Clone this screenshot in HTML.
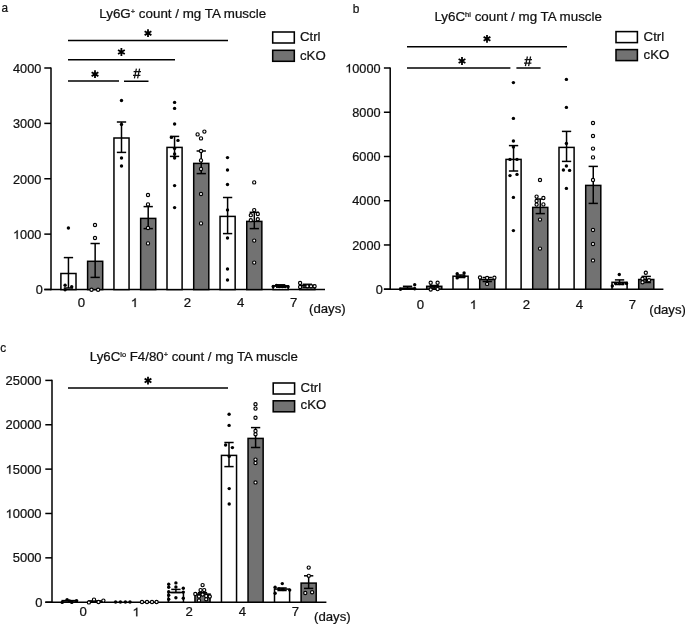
<!DOCTYPE html>
<html><head><meta charset="utf-8"><style>
html,body{margin:0;padding:0;background:#fff;}
body{width:685px;height:625px;overflow:hidden;}
svg{display:block;font-family:"Liberation Sans",sans-serif;fill:#111;}
text{fill:#111;stroke:#111;stroke-width:0.22px;}
</style></head><body>
<svg width="685" height="625" viewBox="0 0 685 625" style="will-change:transform">
<rect width="685" height="625" fill="#fff"/>
<line x1="51.00" y1="67.40" x2="51.00" y2="290.20" stroke="#000" stroke-width="1.5"/>
<line x1="44.30" y1="68.00" x2="51.00" y2="68.00" stroke="#000" stroke-width="1.5"/>
<text transform="translate(13.00,72.80) scale(1.06,1)" text-anchor="start" font-size="12" >4000</text>
<line x1="44.30" y1="123.38" x2="51.00" y2="123.38" stroke="#000" stroke-width="1.5"/>
<text transform="translate(13.00,128.18) scale(1.06,1)" text-anchor="start" font-size="12" >3000</text>
<line x1="44.30" y1="178.75" x2="51.00" y2="178.75" stroke="#000" stroke-width="1.5"/>
<text transform="translate(13.00,183.55) scale(1.06,1)" text-anchor="start" font-size="12" >2000</text>
<line x1="44.30" y1="234.12" x2="51.00" y2="234.12" stroke="#000" stroke-width="1.5"/>
<path transform="translate(13.00,238.93) scale(0.00621,-0.00586)" d="M763,0L583,0L583,1147Q518,1085 412,1023Q306,961 222,930L222,1104Q373,1175 486,1276Q599,1377 646,1472L763,1472Z" fill="#111" stroke="#111" stroke-width="37.5"/>
<text transform="translate(20.08,238.93) scale(1.06,1)" text-anchor="start" font-size="12" >000</text>
<line x1="44.30" y1="289.50" x2="51.00" y2="289.50" stroke="#000" stroke-width="1.5"/>
<text transform="translate(35.83,294.30) scale(1.06,1)" text-anchor="start" font-size="12" >0</text>
<line x1="44.30" y1="289.60" x2="325.00" y2="289.60" stroke="#000" stroke-width="1.5"/>
<rect x="60.90" y="273.50" width="15.10" height="16.10" fill="#fff" stroke="#000" stroke-width="1.5"/>
<rect x="87.60" y="261.30" width="15.10" height="28.30" fill="#727272" stroke="#000" stroke-width="1.5"/>
<rect x="113.95" y="138.00" width="15.10" height="151.60" fill="#fff" stroke="#000" stroke-width="1.5"/>
<rect x="140.65" y="218.40" width="15.10" height="71.20" fill="#727272" stroke="#000" stroke-width="1.5"/>
<rect x="167.00" y="147.40" width="15.10" height="142.20" fill="#fff" stroke="#000" stroke-width="1.5"/>
<rect x="193.70" y="163.40" width="15.10" height="126.20" fill="#727272" stroke="#000" stroke-width="1.5"/>
<rect x="220.05" y="216.40" width="15.10" height="73.20" fill="#fff" stroke="#000" stroke-width="1.5"/>
<rect x="246.75" y="221.40" width="15.10" height="68.20" fill="#727272" stroke="#000" stroke-width="1.5"/>
<rect x="273.10" y="285.80" width="15.10" height="3.80" fill="#fff" stroke="#000" stroke-width="1.5"/>
<rect x="299.80" y="285.40" width="15.10" height="4.20" fill="#727272" stroke="#000" stroke-width="1.5"/>
<line x1="68.45" y1="257.60" x2="68.45" y2="288.00" stroke="#000" stroke-width="1.5"/>
<line x1="63.80" y1="257.60" x2="73.10" y2="257.60" stroke="#000" stroke-width="1.5"/>
<line x1="63.80" y1="288.00" x2="73.10" y2="288.00" stroke="#000" stroke-width="1.5"/>
<circle cx="68.40" cy="228.00" r="1.7" fill="#000"/>
<circle cx="65.10" cy="285.30" r="1.7" fill="#000"/>
<circle cx="65.10" cy="289.70" r="1.7" fill="#000"/>
<circle cx="71.70" cy="286.80" r="1.7" fill="#000"/>
<line x1="95.15" y1="243.50" x2="95.15" y2="277.40" stroke="#000" stroke-width="1.5"/>
<line x1="90.50" y1="243.50" x2="99.80" y2="243.50" stroke="#000" stroke-width="1.5"/>
<line x1="90.50" y1="277.40" x2="99.80" y2="277.40" stroke="#000" stroke-width="1.5"/>
<circle cx="95.00" cy="225.00" r="1.6" fill="#fff" stroke="#000" stroke-width="1.15"/>
<circle cx="95.00" cy="238.00" r="1.6" fill="#fff" stroke="#000" stroke-width="1.15"/>
<circle cx="91.50" cy="289.70" r="1.6" fill="#fff" stroke="#000" stroke-width="1.15"/>
<circle cx="98.10" cy="289.70" r="1.6" fill="#fff" stroke="#000" stroke-width="1.15"/>
<line x1="121.50" y1="122.00" x2="121.50" y2="152.40" stroke="#000" stroke-width="1.5"/>
<line x1="116.85" y1="122.00" x2="126.15" y2="122.00" stroke="#000" stroke-width="1.5"/>
<line x1="116.85" y1="152.40" x2="126.15" y2="152.40" stroke="#000" stroke-width="1.5"/>
<circle cx="121.50" cy="100.50" r="1.7" fill="#000"/>
<circle cx="121.50" cy="124.40" r="1.7" fill="#000"/>
<circle cx="121.50" cy="158.00" r="1.7" fill="#000"/>
<circle cx="121.50" cy="166.00" r="1.7" fill="#000"/>
<line x1="148.20" y1="206.60" x2="148.20" y2="228.60" stroke="#000" stroke-width="1.5"/>
<line x1="143.55" y1="206.60" x2="152.85" y2="206.60" stroke="#000" stroke-width="1.5"/>
<line x1="143.55" y1="228.60" x2="152.85" y2="228.60" stroke="#000" stroke-width="1.5"/>
<circle cx="148.00" cy="195.00" r="1.6" fill="#fff" stroke="#000" stroke-width="1.15"/>
<circle cx="148.00" cy="204.40" r="1.6" fill="#fff" stroke="#000" stroke-width="1.15"/>
<circle cx="148.00" cy="228.00" r="1.6" fill="#fff" stroke="#000" stroke-width="1.15"/>
<circle cx="148.00" cy="243.40" r="1.6" fill="#fff" stroke="#000" stroke-width="1.15"/>
<line x1="174.55" y1="136.40" x2="174.55" y2="156.40" stroke="#000" stroke-width="1.5"/>
<line x1="169.90" y1="136.40" x2="179.20" y2="136.40" stroke="#000" stroke-width="1.5"/>
<line x1="169.90" y1="156.40" x2="179.20" y2="156.40" stroke="#000" stroke-width="1.5"/>
<circle cx="174.60" cy="102.40" r="1.7" fill="#000"/>
<circle cx="174.60" cy="108.40" r="1.7" fill="#000"/>
<circle cx="174.60" cy="124.00" r="1.7" fill="#000"/>
<circle cx="171.40" cy="137.40" r="1.7" fill="#000"/>
<circle cx="178.00" cy="140.40" r="1.7" fill="#000"/>
<circle cx="174.60" cy="148.40" r="1.7" fill="#000"/>
<circle cx="174.60" cy="154.00" r="1.7" fill="#000"/>
<circle cx="174.60" cy="158.00" r="1.7" fill="#000"/>
<circle cx="174.60" cy="185.60" r="1.7" fill="#000"/>
<circle cx="174.60" cy="207.60" r="1.7" fill="#000"/>
<line x1="201.25" y1="151.00" x2="201.25" y2="173.60" stroke="#000" stroke-width="1.5"/>
<line x1="196.60" y1="151.00" x2="205.90" y2="151.00" stroke="#000" stroke-width="1.5"/>
<line x1="196.60" y1="173.60" x2="205.90" y2="173.60" stroke="#000" stroke-width="1.5"/>
<circle cx="197.60" cy="134.40" r="1.6" fill="#fff" stroke="#000" stroke-width="1.15"/>
<circle cx="204.40" cy="131.60" r="1.6" fill="#fff" stroke="#000" stroke-width="1.15"/>
<circle cx="201.00" cy="138.40" r="1.6" fill="#fff" stroke="#000" stroke-width="1.15"/>
<circle cx="201.00" cy="151.00" r="1.6" fill="#fff" stroke="#000" stroke-width="1.15"/>
<circle cx="201.00" cy="160.40" r="1.6" fill="#fff" stroke="#000" stroke-width="1.15"/>
<circle cx="201.00" cy="169.00" r="1.6" fill="#fff" stroke="#000" stroke-width="1.15"/>
<circle cx="201.00" cy="194.00" r="1.6" fill="#fff" stroke="#000" stroke-width="1.15"/>
<circle cx="201.00" cy="223.40" r="1.6" fill="#fff" stroke="#000" stroke-width="1.15"/>
<line x1="227.60" y1="197.50" x2="227.60" y2="233.60" stroke="#000" stroke-width="1.5"/>
<line x1="222.95" y1="197.50" x2="232.25" y2="197.50" stroke="#000" stroke-width="1.5"/>
<line x1="222.95" y1="233.60" x2="232.25" y2="233.60" stroke="#000" stroke-width="1.5"/>
<circle cx="227.50" cy="157.60" r="1.7" fill="#000"/>
<circle cx="227.50" cy="170.00" r="1.7" fill="#000"/>
<circle cx="227.50" cy="184.50" r="1.7" fill="#000"/>
<circle cx="227.50" cy="209.90" r="1.7" fill="#000"/>
<circle cx="227.50" cy="238.00" r="1.7" fill="#000"/>
<circle cx="227.50" cy="269.00" r="1.7" fill="#000"/>
<circle cx="227.50" cy="280.00" r="1.7" fill="#000"/>
<line x1="254.30" y1="212.30" x2="254.30" y2="228.60" stroke="#000" stroke-width="1.5"/>
<line x1="249.65" y1="212.30" x2="258.95" y2="212.30" stroke="#000" stroke-width="1.5"/>
<line x1="249.65" y1="228.60" x2="258.95" y2="228.60" stroke="#000" stroke-width="1.5"/>
<circle cx="254.20" cy="182.40" r="1.6" fill="#fff" stroke="#000" stroke-width="1.15"/>
<circle cx="254.20" cy="210.10" r="1.6" fill="#fff" stroke="#000" stroke-width="1.15"/>
<circle cx="250.80" cy="215.20" r="1.6" fill="#fff" stroke="#000" stroke-width="1.15"/>
<circle cx="257.80" cy="214.00" r="1.6" fill="#fff" stroke="#000" stroke-width="1.15"/>
<circle cx="250.80" cy="220.20" r="1.6" fill="#fff" stroke="#000" stroke-width="1.15"/>
<circle cx="257.80" cy="219.20" r="1.6" fill="#fff" stroke="#000" stroke-width="1.15"/>
<circle cx="254.20" cy="240.60" r="1.6" fill="#fff" stroke="#000" stroke-width="1.15"/>
<circle cx="254.20" cy="262.60" r="1.6" fill="#fff" stroke="#000" stroke-width="1.15"/>
<line x1="280.65" y1="284.80" x2="280.65" y2="287.20" stroke="#000" stroke-width="1.5"/>
<line x1="276.00" y1="284.80" x2="285.30" y2="284.80" stroke="#000" stroke-width="1.5"/>
<line x1="276.00" y1="287.20" x2="285.30" y2="287.20" stroke="#000" stroke-width="1.5"/>
<circle cx="273.20" cy="286.50" r="1.7" fill="#000"/>
<circle cx="276.40" cy="285.40" r="1.7" fill="#000"/>
<circle cx="279.20" cy="286.60" r="1.7" fill="#000"/>
<circle cx="282.40" cy="286.60" r="1.7" fill="#000"/>
<circle cx="285.30" cy="286.60" r="1.7" fill="#000"/>
<circle cx="288.10" cy="286.80" r="1.7" fill="#000"/>
<line x1="307.35" y1="284.30" x2="307.35" y2="287.20" stroke="#000" stroke-width="1.5"/>
<line x1="302.70" y1="284.30" x2="312.00" y2="284.30" stroke="#000" stroke-width="1.5"/>
<line x1="302.70" y1="287.20" x2="312.00" y2="287.20" stroke="#000" stroke-width="1.5"/>
<circle cx="300.10" cy="283.00" r="1.6" fill="#fff" stroke="#000" stroke-width="1.15"/>
<circle cx="300.10" cy="287.00" r="1.6" fill="#fff" stroke="#000" stroke-width="1.15"/>
<circle cx="307.40" cy="286.20" r="1.6" fill="#fff" stroke="#000" stroke-width="1.15"/>
<circle cx="311.00" cy="286.20" r="1.6" fill="#fff" stroke="#000" stroke-width="1.15"/>
<circle cx="314.60" cy="286.20" r="1.6" fill="#fff" stroke="#000" stroke-width="1.15"/>
<text transform="translate(77.73,307.00) scale(1.1,1)" text-anchor="start" font-size="12" >0</text>
<path transform="translate(130.78,307.00) scale(0.00645,-0.00586)" d="M763,0L583,0L583,1147Q518,1085 412,1023Q306,961 222,930L222,1104Q373,1175 486,1276Q599,1377 646,1472L763,1472Z" fill="#111" stroke="#111" stroke-width="37.5"/>
<text transform="translate(183.83,307.00) scale(1.1,1)" text-anchor="start" font-size="12" >2</text>
<text transform="translate(236.88,307.00) scale(1.1,1)" text-anchor="start" font-size="12" >4</text>
<text transform="translate(289.93,307.00) scale(1.1,1)" text-anchor="start" font-size="12" >7</text>
<text transform="translate(309.00,313.10) scale(1.1,1)" text-anchor="start" font-size="12" >(days)</text>
<line x1="68.00" y1="40.60" x2="228.00" y2="40.60" stroke="#000" stroke-width="1.5"/>
<path d="M148.00,37.10L148.00,29.30M144.62,35.15L151.38,31.25M151.38,35.15L144.62,31.25" stroke="#000" stroke-width="1.8" fill="none"/>
<line x1="68.00" y1="59.65" x2="175.00" y2="59.65" stroke="#000" stroke-width="1.5"/>
<path d="M121.40,55.90L121.40,48.10M118.02,53.95L124.78,50.05M124.78,53.95L118.02,50.05" stroke="#000" stroke-width="1.8" fill="none"/>
<line x1="68.00" y1="81.00" x2="119.00" y2="81.00" stroke="#000" stroke-width="1.5"/>
<path d="M95.00,78.10L95.00,70.30M91.62,76.15L98.38,72.25M98.38,76.15L91.62,72.25" stroke="#000" stroke-width="1.8" fill="none"/>
<line x1="124.00" y1="81.25" x2="148.50" y2="81.25" stroke="#000" stroke-width="1.5"/>
<path d="M136.40,68.60L134.40,78.30M139.60,68.60L137.60,78.30M133.60,71.60L141.00,71.60M133.00,75.30L140.40,75.30" stroke="#111" stroke-width="1.25" fill="none"/>
<rect x="272.70" y="32.00" width="21.60" height="11.00" fill="#fff" stroke="#000" stroke-width="1.55"/>
<rect x="272.70" y="50.30" width="21.60" height="11.00" fill="#727272" stroke="#000" stroke-width="1.55"/>
<text transform="translate(300.00,41.20) scale(1.1,1)" text-anchor="start" font-size="12" >Ctrl</text>
<text transform="translate(300.00,59.50) scale(1.1,1)" text-anchor="start" font-size="12" >cKO</text>
<text transform="translate(99.30,18.20) scale(1.07,1)" font-size="12.5"><tspan>Ly6G</tspan><tspan font-size="7" dy="-4.4">+</tspan><tspan dy="4.4"> count / mg TA muscle</tspan></text>
<text transform="translate(1.50,12.20) scale(0.98,1)" text-anchor="start" font-size="12" >a</text>
<line x1="390.20" y1="67.40" x2="390.20" y2="289.80" stroke="#000" stroke-width="1.5"/>
<line x1="383.90" y1="68.00" x2="390.20" y2="68.00" stroke="#000" stroke-width="1.5"/>
<path transform="translate(345.23,72.60) scale(0.00621,-0.00586)" d="M763,0L583,0L583,1147Q518,1085 412,1023Q306,961 222,930L222,1104Q373,1175 486,1276Q599,1377 646,1472L763,1472Z" fill="#111" stroke="#111" stroke-width="37.5"/>
<text transform="translate(352.30,72.60) scale(1.06,1)" text-anchor="start" font-size="12" >0000</text>
<line x1="383.90" y1="112.24" x2="390.20" y2="112.24" stroke="#000" stroke-width="1.5"/>
<text transform="translate(352.30,116.84) scale(1.06,1)" text-anchor="start" font-size="12" >8000</text>
<line x1="383.90" y1="156.48" x2="390.20" y2="156.48" stroke="#000" stroke-width="1.5"/>
<text transform="translate(352.30,161.08) scale(1.06,1)" text-anchor="start" font-size="12" >6000</text>
<line x1="383.90" y1="200.72" x2="390.20" y2="200.72" stroke="#000" stroke-width="1.5"/>
<text transform="translate(352.30,205.32) scale(1.06,1)" text-anchor="start" font-size="12" >4000</text>
<line x1="383.90" y1="244.96" x2="390.20" y2="244.96" stroke="#000" stroke-width="1.5"/>
<text transform="translate(352.30,249.56) scale(1.06,1)" text-anchor="start" font-size="12" >2000</text>
<line x1="383.90" y1="289.20" x2="390.20" y2="289.20" stroke="#000" stroke-width="1.5"/>
<text transform="translate(375.73,293.80) scale(1.06,1)" text-anchor="start" font-size="12" >0</text>
<line x1="383.90" y1="289.20" x2="663.40" y2="289.20" stroke="#000" stroke-width="1.5"/>
<rect x="400.00" y="288.20" width="15.10" height="1.00" fill="#fff" stroke="#000" stroke-width="1.5"/>
<rect x="426.70" y="286.30" width="15.10" height="2.90" fill="#727272" stroke="#000" stroke-width="1.5"/>
<rect x="453.00" y="276.20" width="15.10" height="13.00" fill="#fff" stroke="#000" stroke-width="1.5"/>
<rect x="479.70" y="279.50" width="15.10" height="9.70" fill="#727272" stroke="#000" stroke-width="1.5"/>
<rect x="506.00" y="159.40" width="15.10" height="129.80" fill="#fff" stroke="#000" stroke-width="1.5"/>
<rect x="532.70" y="207.40" width="15.10" height="81.80" fill="#727272" stroke="#000" stroke-width="1.5"/>
<rect x="559.00" y="147.40" width="15.10" height="141.80" fill="#fff" stroke="#000" stroke-width="1.5"/>
<rect x="585.70" y="185.40" width="15.10" height="103.80" fill="#727272" stroke="#000" stroke-width="1.5"/>
<rect x="612.00" y="282.30" width="15.10" height="6.90" fill="#fff" stroke="#000" stroke-width="1.5"/>
<rect x="638.70" y="279.50" width="15.10" height="9.70" fill="#727272" stroke="#000" stroke-width="1.5"/>
<line x1="407.55" y1="286.30" x2="407.55" y2="288.30" stroke="#000" stroke-width="1.5"/>
<line x1="402.90" y1="286.30" x2="412.20" y2="286.30" stroke="#000" stroke-width="1.5"/>
<line x1="402.90" y1="288.30" x2="412.20" y2="288.30" stroke="#000" stroke-width="1.5"/>
<circle cx="400.50" cy="289.30" r="1.7" fill="#000"/>
<circle cx="414.70" cy="284.70" r="1.7" fill="#000"/>
<circle cx="414.70" cy="288.70" r="1.7" fill="#000"/>
<line x1="434.25" y1="285.50" x2="434.25" y2="288.00" stroke="#000" stroke-width="1.5"/>
<line x1="429.60" y1="285.50" x2="438.90" y2="285.50" stroke="#000" stroke-width="1.5"/>
<line x1="429.60" y1="288.00" x2="438.90" y2="288.00" stroke="#000" stroke-width="1.5"/>
<circle cx="430.70" cy="282.70" r="1.6" fill="#fff" stroke="#000" stroke-width="1.15"/>
<circle cx="437.60" cy="282.70" r="1.6" fill="#fff" stroke="#000" stroke-width="1.15"/>
<circle cx="430.70" cy="289.50" r="1.6" fill="#fff" stroke="#000" stroke-width="1.15"/>
<circle cx="437.60" cy="289.10" r="1.6" fill="#fff" stroke="#000" stroke-width="1.15"/>
<line x1="460.55" y1="275.00" x2="460.55" y2="277.50" stroke="#000" stroke-width="1.5"/>
<line x1="455.90" y1="275.00" x2="465.20" y2="275.00" stroke="#000" stroke-width="1.5"/>
<line x1="455.90" y1="277.50" x2="465.20" y2="277.50" stroke="#000" stroke-width="1.5"/>
<circle cx="457.20" cy="273.80" r="1.7" fill="#000"/>
<circle cx="457.20" cy="277.90" r="1.7" fill="#000"/>
<circle cx="464.10" cy="273.00" r="1.7" fill="#000"/>
<circle cx="464.10" cy="276.60" r="1.7" fill="#000"/>
<line x1="487.25" y1="277.50" x2="487.25" y2="281.50" stroke="#000" stroke-width="1.5"/>
<line x1="482.60" y1="277.50" x2="491.90" y2="277.50" stroke="#000" stroke-width="1.5"/>
<line x1="482.60" y1="281.50" x2="491.90" y2="281.50" stroke="#000" stroke-width="1.5"/>
<circle cx="480.00" cy="277.40" r="1.6" fill="#fff" stroke="#000" stroke-width="1.15"/>
<circle cx="487.10" cy="277.90" r="1.6" fill="#fff" stroke="#000" stroke-width="1.15"/>
<circle cx="494.40" cy="277.70" r="1.6" fill="#fff" stroke="#000" stroke-width="1.15"/>
<circle cx="487.10" cy="283.90" r="1.6" fill="#fff" stroke="#000" stroke-width="1.15"/>
<line x1="513.55" y1="145.60" x2="513.55" y2="171.00" stroke="#000" stroke-width="1.5"/>
<line x1="508.90" y1="145.60" x2="518.20" y2="145.60" stroke="#000" stroke-width="1.5"/>
<line x1="508.90" y1="171.00" x2="518.20" y2="171.00" stroke="#000" stroke-width="1.5"/>
<circle cx="513.40" cy="82.60" r="1.7" fill="#000"/>
<circle cx="513.40" cy="118.40" r="1.7" fill="#000"/>
<circle cx="513.40" cy="141.00" r="1.7" fill="#000"/>
<circle cx="513.40" cy="147.00" r="1.7" fill="#000"/>
<circle cx="510.00" cy="159.40" r="1.7" fill="#000"/>
<circle cx="517.00" cy="159.40" r="1.7" fill="#000"/>
<circle cx="510.00" cy="175.60" r="1.7" fill="#000"/>
<circle cx="517.00" cy="174.40" r="1.7" fill="#000"/>
<circle cx="513.40" cy="197.40" r="1.7" fill="#000"/>
<circle cx="513.40" cy="230.60" r="1.7" fill="#000"/>
<line x1="540.25" y1="199.00" x2="540.25" y2="213.60" stroke="#000" stroke-width="1.5"/>
<line x1="535.60" y1="199.00" x2="544.90" y2="199.00" stroke="#000" stroke-width="1.5"/>
<line x1="535.60" y1="213.60" x2="544.90" y2="213.60" stroke="#000" stroke-width="1.5"/>
<circle cx="540.00" cy="180.00" r="1.6" fill="#fff" stroke="#000" stroke-width="1.15"/>
<circle cx="536.60" cy="196.60" r="1.6" fill="#fff" stroke="#000" stroke-width="1.15"/>
<circle cx="543.40" cy="198.00" r="1.6" fill="#fff" stroke="#000" stroke-width="1.15"/>
<circle cx="536.60" cy="201.00" r="1.6" fill="#fff" stroke="#000" stroke-width="1.15"/>
<circle cx="536.60" cy="204.60" r="1.6" fill="#fff" stroke="#000" stroke-width="1.15"/>
<circle cx="543.40" cy="204.40" r="1.6" fill="#fff" stroke="#000" stroke-width="1.15"/>
<circle cx="540.00" cy="219.60" r="1.6" fill="#fff" stroke="#000" stroke-width="1.15"/>
<circle cx="540.00" cy="248.60" r="1.6" fill="#fff" stroke="#000" stroke-width="1.15"/>
<line x1="566.55" y1="131.40" x2="566.55" y2="161.40" stroke="#000" stroke-width="1.5"/>
<line x1="561.90" y1="131.40" x2="571.20" y2="131.40" stroke="#000" stroke-width="1.5"/>
<line x1="561.90" y1="161.40" x2="571.20" y2="161.40" stroke="#000" stroke-width="1.5"/>
<circle cx="566.40" cy="79.40" r="1.7" fill="#000"/>
<circle cx="566.40" cy="107.40" r="1.7" fill="#000"/>
<circle cx="566.40" cy="143.40" r="1.7" fill="#000"/>
<circle cx="566.40" cy="166.00" r="1.7" fill="#000"/>
<circle cx="563.40" cy="170.00" r="1.7" fill="#000"/>
<circle cx="569.60" cy="170.40" r="1.7" fill="#000"/>
<circle cx="566.40" cy="188.40" r="1.7" fill="#000"/>
<line x1="593.25" y1="166.40" x2="593.25" y2="203.40" stroke="#000" stroke-width="1.5"/>
<line x1="588.60" y1="166.40" x2="597.90" y2="166.40" stroke="#000" stroke-width="1.5"/>
<line x1="588.60" y1="203.40" x2="597.90" y2="203.40" stroke="#000" stroke-width="1.5"/>
<circle cx="593.00" cy="123.00" r="1.6" fill="#fff" stroke="#000" stroke-width="1.15"/>
<circle cx="593.00" cy="136.00" r="1.6" fill="#fff" stroke="#000" stroke-width="1.15"/>
<circle cx="593.00" cy="148.60" r="1.6" fill="#fff" stroke="#000" stroke-width="1.15"/>
<circle cx="593.00" cy="157.40" r="1.6" fill="#fff" stroke="#000" stroke-width="1.15"/>
<circle cx="593.00" cy="180.00" r="1.6" fill="#fff" stroke="#000" stroke-width="1.15"/>
<circle cx="593.00" cy="230.00" r="1.6" fill="#fff" stroke="#000" stroke-width="1.15"/>
<circle cx="593.00" cy="244.00" r="1.6" fill="#fff" stroke="#000" stroke-width="1.15"/>
<circle cx="593.00" cy="260.40" r="1.6" fill="#fff" stroke="#000" stroke-width="1.15"/>
<line x1="619.55" y1="279.90" x2="619.55" y2="284.50" stroke="#000" stroke-width="1.5"/>
<line x1="614.90" y1="279.90" x2="624.20" y2="279.90" stroke="#000" stroke-width="1.5"/>
<line x1="614.90" y1="284.50" x2="624.20" y2="284.50" stroke="#000" stroke-width="1.5"/>
<circle cx="619.30" cy="274.50" r="1.7" fill="#000"/>
<circle cx="615.60" cy="283.50" r="1.7" fill="#000"/>
<circle cx="619.30" cy="283.50" r="1.7" fill="#000"/>
<circle cx="622.90" cy="283.50" r="1.7" fill="#000"/>
<circle cx="626.50" cy="283.50" r="1.7" fill="#000"/>
<circle cx="612.30" cy="286.00" r="1.7" fill="#000"/>
<line x1="646.25" y1="276.40" x2="646.25" y2="282.50" stroke="#000" stroke-width="1.5"/>
<line x1="641.60" y1="276.40" x2="650.90" y2="276.40" stroke="#000" stroke-width="1.5"/>
<line x1="641.60" y1="282.50" x2="650.90" y2="282.50" stroke="#000" stroke-width="1.5"/>
<circle cx="645.80" cy="272.80" r="1.6" fill="#fff" stroke="#000" stroke-width="1.15"/>
<circle cx="642.50" cy="278.70" r="1.6" fill="#fff" stroke="#000" stroke-width="1.15"/>
<circle cx="649.00" cy="280.30" r="1.6" fill="#fff" stroke="#000" stroke-width="1.15"/>
<circle cx="642.50" cy="282.30" r="1.6" fill="#fff" stroke="#000" stroke-width="1.15"/>
<text transform="translate(416.73,309.00) scale(1.1,1)" text-anchor="start" font-size="12" >0</text>
<path transform="translate(469.73,309.00) scale(0.00645,-0.00586)" d="M763,0L583,0L583,1147Q518,1085 412,1023Q306,961 222,930L222,1104Q373,1175 486,1276Q599,1377 646,1472L763,1472Z" fill="#111" stroke="#111" stroke-width="37.5"/>
<text transform="translate(522.73,309.00) scale(1.1,1)" text-anchor="start" font-size="12" >2</text>
<text transform="translate(575.73,309.00) scale(1.1,1)" text-anchor="start" font-size="12" >4</text>
<text transform="translate(628.73,309.00) scale(1.1,1)" text-anchor="start" font-size="12" >7</text>
<text transform="translate(649.30,314.30) scale(1.1,1)" text-anchor="start" font-size="12" >(days)</text>
<line x1="407.00" y1="46.70" x2="567.00" y2="46.70" stroke="#000" stroke-width="1.5"/>
<path d="M487.00,42.70L487.00,34.90M483.62,40.75L490.38,36.85M490.38,40.75L483.62,36.85" stroke="#000" stroke-width="1.8" fill="none"/>
<line x1="407.00" y1="68.00" x2="510.40" y2="68.00" stroke="#000" stroke-width="1.5"/>
<path d="M462.00,64.90L462.00,57.10M458.62,62.95L465.38,59.05M465.38,62.95L458.62,59.05" stroke="#000" stroke-width="1.8" fill="none"/>
<line x1="516.40" y1="68.00" x2="540.60" y2="68.00" stroke="#000" stroke-width="1.5"/>
<path d="M527.40,56.50L525.40,66.20M530.60,56.50L528.60,66.20M524.60,59.50L532.00,59.50M524.00,63.20L531.40,63.20" stroke="#111" stroke-width="1.25" fill="none"/>
<rect x="616.00" y="31.60" width="21.40" height="11.00" fill="#fff" stroke="#000" stroke-width="1.55"/>
<rect x="616.00" y="49.60" width="21.40" height="11.00" fill="#727272" stroke="#000" stroke-width="1.55"/>
<text transform="translate(643.60,41.00) scale(1.1,1)" text-anchor="start" font-size="12" >Ctrl</text>
<text transform="translate(643.60,59.00) scale(1.1,1)" text-anchor="start" font-size="12" >cKO</text>
<text transform="translate(434.40,20.90) scale(1.07,1)" font-size="12.5"><tspan>Ly6C</tspan><tspan font-size="7" dy="-4.4">hi</tspan><tspan dy="4.4"> count / mg TA muscle</tspan></text>
<text transform="translate(352.70,12.65) scale(0.93,1)" text-anchor="start" font-size="12.8" >b</text>
<line x1="52.00" y1="379.80" x2="52.00" y2="602.80" stroke="#000" stroke-width="1.5"/>
<line x1="45.30" y1="380.40" x2="52.00" y2="380.40" stroke="#000" stroke-width="1.5"/>
<text transform="translate(5.56,385.00) scale(1.08,1)" text-anchor="start" font-size="12" >25000</text>
<line x1="45.30" y1="424.76" x2="52.00" y2="424.76" stroke="#000" stroke-width="1.5"/>
<text transform="translate(5.56,429.36) scale(1.08,1)" text-anchor="start" font-size="12" >20000</text>
<line x1="45.30" y1="469.12" x2="52.00" y2="469.12" stroke="#000" stroke-width="1.5"/>
<path transform="translate(5.56,473.72) scale(0.00633,-0.00586)" d="M763,0L583,0L583,1147Q518,1085 412,1023Q306,961 222,930L222,1104Q373,1175 486,1276Q599,1377 646,1472L763,1472Z" fill="#111" stroke="#111" stroke-width="37.5"/>
<text transform="translate(12.77,473.72) scale(1.08,1)" text-anchor="start" font-size="12" >5000</text>
<line x1="45.30" y1="513.48" x2="52.00" y2="513.48" stroke="#000" stroke-width="1.5"/>
<path transform="translate(5.56,518.08) scale(0.00633,-0.00586)" d="M763,0L583,0L583,1147Q518,1085 412,1023Q306,961 222,930L222,1104Q373,1175 486,1276Q599,1377 646,1472L763,1472Z" fill="#111" stroke="#111" stroke-width="37.5"/>
<text transform="translate(12.77,518.08) scale(1.08,1)" text-anchor="start" font-size="12" >0000</text>
<line x1="45.30" y1="557.84" x2="52.00" y2="557.84" stroke="#000" stroke-width="1.5"/>
<text transform="translate(12.77,562.44) scale(1.08,1)" text-anchor="start" font-size="12" >5000</text>
<line x1="45.30" y1="602.20" x2="52.00" y2="602.20" stroke="#000" stroke-width="1.5"/>
<text transform="translate(35.19,606.80) scale(1.08,1)" text-anchor="start" font-size="12" >0</text>
<line x1="45.30" y1="602.20" x2="326.40" y2="602.20" stroke="#000" stroke-width="1.5"/>
<rect x="62.20" y="600.60" width="15.10" height="1.60" fill="#fff" stroke="#000" stroke-width="1.5"/>
<rect x="88.80" y="600.90" width="15.10" height="1.30" fill="#727272" stroke="#000" stroke-width="1.5"/>
<rect x="168.35" y="592.50" width="15.10" height="9.70" fill="#fff" stroke="#000" stroke-width="1.5"/>
<rect x="194.95" y="594.10" width="15.10" height="8.10" fill="#727272" stroke="#000" stroke-width="1.5"/>
<rect x="221.45" y="455.40" width="15.10" height="146.80" fill="#fff" stroke="#000" stroke-width="1.5"/>
<rect x="248.05" y="438.40" width="15.10" height="163.80" fill="#727272" stroke="#000" stroke-width="1.5"/>
<rect x="274.50" y="589.10" width="15.10" height="13.10" fill="#fff" stroke="#000" stroke-width="1.5"/>
<rect x="301.10" y="583.10" width="15.10" height="19.10" fill="#727272" stroke="#000" stroke-width="1.5"/>
<circle cx="62.20" cy="602.40" r="1.7" fill="#000"/>
<circle cx="67.10" cy="599.60" r="1.7" fill="#000"/>
<circle cx="69.50" cy="601.00" r="1.7" fill="#000"/>
<circle cx="71.80" cy="602.40" r="1.7" fill="#000"/>
<circle cx="76.50" cy="600.60" r="1.7" fill="#000"/>
<circle cx="88.90" cy="602.40" r="1.6" fill="#fff" stroke="#000" stroke-width="1.15"/>
<circle cx="94.00" cy="599.60" r="1.6" fill="#fff" stroke="#000" stroke-width="1.15"/>
<circle cx="98.50" cy="602.00" r="1.6" fill="#fff" stroke="#000" stroke-width="1.15"/>
<circle cx="103.40" cy="600.60" r="1.6" fill="#fff" stroke="#000" stroke-width="1.15"/>
<circle cx="115.60" cy="602.00" r="1.7" fill="#000"/>
<circle cx="120.40" cy="602.00" r="1.7" fill="#000"/>
<circle cx="125.40" cy="602.00" r="1.7" fill="#000"/>
<circle cx="130.00" cy="602.00" r="1.7" fill="#000"/>
<circle cx="142.00" cy="602.00" r="1.6" fill="#fff" stroke="#000" stroke-width="1.15"/>
<circle cx="147.00" cy="602.00" r="1.6" fill="#fff" stroke="#000" stroke-width="1.15"/>
<circle cx="152.00" cy="602.00" r="1.6" fill="#fff" stroke="#000" stroke-width="1.15"/>
<circle cx="156.60" cy="602.00" r="1.6" fill="#fff" stroke="#000" stroke-width="1.15"/>
<line x1="175.90" y1="589.40" x2="175.90" y2="592.50" stroke="#000" stroke-width="1.5"/>
<line x1="171.25" y1="589.40" x2="180.55" y2="589.40" stroke="#000" stroke-width="1.5"/>
<line x1="171.25" y1="592.50" x2="180.55" y2="592.50" stroke="#000" stroke-width="1.5"/>
<circle cx="168.70" cy="584.30" r="1.7" fill="#000"/>
<circle cx="168.70" cy="587.30" r="1.7" fill="#000"/>
<circle cx="168.70" cy="591.70" r="1.7" fill="#000"/>
<circle cx="168.70" cy="595.30" r="1.7" fill="#000"/>
<circle cx="168.70" cy="599.30" r="1.7" fill="#000"/>
<circle cx="175.90" cy="582.90" r="1.7" fill="#000"/>
<circle cx="175.90" cy="587.00" r="1.7" fill="#000"/>
<circle cx="175.90" cy="597.70" r="1.7" fill="#000"/>
<circle cx="183.30" cy="588.30" r="1.7" fill="#000"/>
<circle cx="183.30" cy="592.10" r="1.7" fill="#000"/>
<circle cx="183.30" cy="598.30" r="1.7" fill="#000"/>
<line x1="202.50" y1="592.60" x2="202.50" y2="594.10" stroke="#000" stroke-width="1.5"/>
<line x1="197.85" y1="592.60" x2="207.15" y2="592.60" stroke="#000" stroke-width="1.5"/>
<line x1="197.85" y1="594.10" x2="207.15" y2="594.10" stroke="#000" stroke-width="1.5"/>
<circle cx="202.60" cy="585.10" r="1.6" fill="#fff" stroke="#000" stroke-width="1.15"/>
<circle cx="200.60" cy="590.10" r="1.6" fill="#fff" stroke="#000" stroke-width="1.15"/>
<circle cx="204.20" cy="590.10" r="1.6" fill="#fff" stroke="#000" stroke-width="1.15"/>
<circle cx="195.30" cy="593.90" r="1.6" fill="#fff" stroke="#000" stroke-width="1.15"/>
<circle cx="202.60" cy="594.50" r="1.6" fill="#fff" stroke="#000" stroke-width="1.15"/>
<circle cx="199.00" cy="596.50" r="1.6" fill="#fff" stroke="#000" stroke-width="1.15"/>
<circle cx="206.20" cy="596.10" r="1.6" fill="#fff" stroke="#000" stroke-width="1.15"/>
<circle cx="209.80" cy="596.50" r="1.6" fill="#fff" stroke="#000" stroke-width="1.15"/>
<circle cx="199.00" cy="600.40" r="1.6" fill="#fff" stroke="#000" stroke-width="1.15"/>
<circle cx="206.20" cy="599.30" r="1.6" fill="#fff" stroke="#000" stroke-width="1.15"/>
<line x1="229.00" y1="442.50" x2="229.00" y2="466.60" stroke="#000" stroke-width="1.5"/>
<line x1="224.35" y1="442.50" x2="233.65" y2="442.50" stroke="#000" stroke-width="1.5"/>
<line x1="224.35" y1="466.60" x2="233.65" y2="466.60" stroke="#000" stroke-width="1.5"/>
<circle cx="229.10" cy="414.20" r="1.7" fill="#000"/>
<circle cx="229.10" cy="425.40" r="1.7" fill="#000"/>
<circle cx="225.60" cy="445.00" r="1.7" fill="#000"/>
<circle cx="232.40" cy="447.60" r="1.7" fill="#000"/>
<circle cx="229.20" cy="456.40" r="1.7" fill="#000"/>
<circle cx="229.20" cy="488.60" r="1.7" fill="#000"/>
<circle cx="229.20" cy="504.00" r="1.7" fill="#000"/>
<line x1="255.60" y1="427.60" x2="255.60" y2="447.50" stroke="#000" stroke-width="1.5"/>
<line x1="250.95" y1="427.60" x2="260.25" y2="427.60" stroke="#000" stroke-width="1.5"/>
<line x1="250.95" y1="447.50" x2="260.25" y2="447.50" stroke="#000" stroke-width="1.5"/>
<circle cx="255.50" cy="404.20" r="1.6" fill="#fff" stroke="#000" stroke-width="1.15"/>
<circle cx="255.50" cy="408.60" r="1.6" fill="#fff" stroke="#000" stroke-width="1.15"/>
<circle cx="255.50" cy="417.70" r="1.6" fill="#fff" stroke="#000" stroke-width="1.15"/>
<circle cx="255.50" cy="430.90" r="1.6" fill="#fff" stroke="#000" stroke-width="1.15"/>
<circle cx="255.50" cy="434.20" r="1.6" fill="#fff" stroke="#000" stroke-width="1.15"/>
<circle cx="255.50" cy="459.60" r="1.6" fill="#fff" stroke="#000" stroke-width="1.15"/>
<circle cx="255.50" cy="463.00" r="1.6" fill="#fff" stroke="#000" stroke-width="1.15"/>
<circle cx="255.50" cy="482.40" r="1.6" fill="#fff" stroke="#000" stroke-width="1.15"/>
<line x1="282.05" y1="588.00" x2="282.05" y2="590.50" stroke="#000" stroke-width="1.5"/>
<line x1="277.40" y1="588.00" x2="286.70" y2="588.00" stroke="#000" stroke-width="1.5"/>
<line x1="277.40" y1="590.50" x2="286.70" y2="590.50" stroke="#000" stroke-width="1.5"/>
<circle cx="282.30" cy="583.60" r="1.7" fill="#000"/>
<circle cx="275.10" cy="587.30" r="1.7" fill="#000"/>
<circle cx="279.00" cy="589.00" r="1.7" fill="#000"/>
<circle cx="283.00" cy="589.50" r="1.7" fill="#000"/>
<circle cx="289.70" cy="590.10" r="1.7" fill="#000"/>
<circle cx="275.10" cy="593.20" r="1.7" fill="#000"/>
<line x1="308.65" y1="575.80" x2="308.65" y2="588.40" stroke="#000" stroke-width="1.5"/>
<line x1="304.00" y1="575.80" x2="313.30" y2="575.80" stroke="#000" stroke-width="1.5"/>
<line x1="304.00" y1="588.40" x2="313.30" y2="588.40" stroke="#000" stroke-width="1.5"/>
<circle cx="308.70" cy="567.60" r="1.6" fill="#fff" stroke="#000" stroke-width="1.15"/>
<circle cx="308.80" cy="575.80" r="1.6" fill="#fff" stroke="#000" stroke-width="1.15"/>
<circle cx="305.30" cy="593.00" r="1.6" fill="#fff" stroke="#000" stroke-width="1.15"/>
<circle cx="312.10" cy="592.20" r="1.6" fill="#fff" stroke="#000" stroke-width="1.15"/>
<text transform="translate(79.38,616.30) scale(1.1,1)" text-anchor="start" font-size="12" >0</text>
<path transform="translate(132.43,616.30) scale(0.00645,-0.00586)" d="M763,0L583,0L583,1147Q518,1085 412,1023Q306,961 222,930L222,1104Q373,1175 486,1276Q599,1377 646,1472L763,1472Z" fill="#111" stroke="#111" stroke-width="37.5"/>
<text transform="translate(185.53,616.30) scale(1.1,1)" text-anchor="start" font-size="12" >2</text>
<text transform="translate(238.63,616.30) scale(1.1,1)" text-anchor="start" font-size="12" >4</text>
<text transform="translate(291.68,616.30) scale(1.1,1)" text-anchor="start" font-size="12" >7</text>
<text transform="translate(314.00,620.50) scale(1.1,1)" text-anchor="start" font-size="12" >(days)</text>
<line x1="68.00" y1="388.00" x2="228.00" y2="388.00" stroke="#000" stroke-width="1.5"/>
<path d="M148.00,384.50L148.00,376.70M144.62,382.55L151.38,378.65M151.38,382.55L144.62,378.65" stroke="#000" stroke-width="1.8" fill="none"/>
<rect x="273.20" y="383.00" width="21.40" height="11.00" fill="#fff" stroke="#000" stroke-width="1.55"/>
<rect x="273.20" y="400.80" width="21.40" height="11.00" fill="#727272" stroke="#000" stroke-width="1.55"/>
<text transform="translate(300.60,391.60) scale(1.1,1)" text-anchor="start" font-size="12" >Ctrl</text>
<text transform="translate(300.60,409.40) scale(1.1,1)" text-anchor="start" font-size="12" >cKO</text>
<text transform="translate(89.80,360.90) scale(1.062,1)" font-size="12.5"><tspan>Ly6C</tspan><tspan font-size="7" dy="-4.4">lo</tspan><tspan dy="4.4"> F4/80</tspan><tspan font-size="7" dy="-4.4">+</tspan><tspan dy="4.4"> count / mg TA muscle</tspan></text>
<text transform="translate(0.30,352.30) scale(0.98,1)" text-anchor="start" font-size="12" >c</text>
</svg>
</body></html>
